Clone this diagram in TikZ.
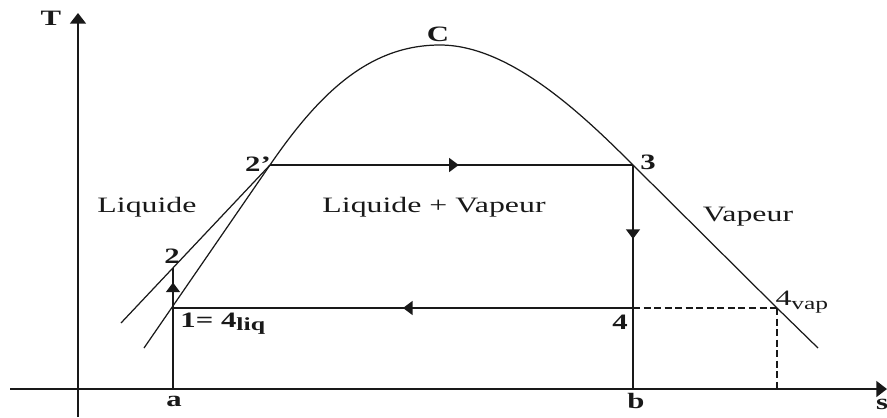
\documentclass[tikz,border=0pt]{standalone}
\usepackage{fontspec}
\setmainfont{Liberation Serif}
\usepackage{tikz}
\usetikzlibrary{
  arrows.meta,
  decorations.markings
}
\definecolor{linecolor}{RGB}{25,25,25}
\tikzset{
axisline/.style={
  line width=0.9pt,
  draw=linecolor,
  -{Triangle[length=6pt,width=9pt]}
},
satcurve/.style={
  line width=0.7pt,
  draw=linecolor
},
cycleline/.style={
  line width=0.9pt,
  draw=linecolor
},
guideline/.style={
  line width=0.8pt,
  draw=linecolor,
  dash pattern=on 4pt off 2pt
},
midarrow/.style={
  postaction={decorate},
  decoration={markings,
    mark=at position #1 with {\arrow{Triangle[length=5.5pt,width=8pt]}}}
},
ptlabel/.style={
  font=\fontsize{12.5}{14}\selectfont\bfseries,
  text=linecolor,
  xscale=1.4,
  inner sep=0pt
},
zonelabel/.style={
  font=\fontsize{12.5}{14}\selectfont,
  text=linecolor,
  xscale=1.45,
  inner sep=0pt
}
}

\begin{document}
\begin{tikzpicture}[x=0.02cm, y=-0.02cm]
    \useasboundingbox (0,0) rectangle (887,417);

    % Axes
    \coordinate (s0) at (10,389);
    \coordinate (s1) at (887,389);
    \coordinate (t0) at (78,417);
    \coordinate (t1) at (78,13);
    \draw[axisline] (s0) -- (s1);
    \draw[axisline] (t0) -- (t1);

    % Points of the cycle
    \coordinate (p1) at (173,308);
    \coordinate (p2) at (173,268);
    \coordinate (p2p) at (270,165);
    \coordinate (p3) at (633,165);
    \coordinate (p4) at (633,308);
    \coordinate (p4v) at (777,308);
    \coordinate (a) at (173,389);
    \coordinate (b) at (633,389);
    \coordinate (v) at (777,389);
    \coordinate (c) at (440,45);
    \coordinate (liqend) at (144,348);
    \coordinate (vapend) at (818,348);
    \coordinate (tg) at (121,323);

    % Saturation curve and tangent
    \draw[satcurve] (liqend) -- (p2p)
      .. controls (320,92) and (370,45) .. (c)
      .. controls (510,45) and (583,115) .. (p3)
      -- (p4v) -- (vapend);
    \draw[satcurve] (tg) -- (p2p);

    % Cycle
    \draw[cycleline, midarrow=0.88] (a) -- (p2);
    \draw[cycleline, midarrow=0.52] (p2p) -- (p3);
    \draw[cycleline, midarrow=0.33] (p3) -- (b);
    \draw[cycleline, midarrow=0.5] (p4) -- (p1);
    \draw[guideline] (p4) -- (p4v);
    \draw[guideline] (p4v) -- (v);

    % Labels
    \node[ptlabel] (lT) at (51,18) {T};
    \node[ptlabel] (ls) at (882,404) {s};
    \node[ptlabel] (lC) at (438,34) {C};
    \node[ptlabel] (l2p) at (258,164) {2'};
    \node[ptlabel] (l3) at (648,162) {3};
    \node[ptlabel] (l2) at (172,256) {2};
    \node[ptlabel, anchor=base west] (l1) at (180,327)
      {1= 4\raisebox{-2pt}{\fontsize{10.5}{11}\selectfont liq}};
    \node[ptlabel] (l4) at (620,322) {4};
    \node[zonelabel, anchor=base west] (l4v) at (775,305)
      {4\raisebox{-2.8pt}{\fontsize{10}{11}\selectfont vap}};
    \node[ptlabel] (la) at (174,401) {a};
    \node[ptlabel] (lb) at (636,401) {b};
    \node[zonelabel] (zl) at (147,207) {Liquide};
    \node[zonelabel] (zlv) at (434,207) {Liquide + Vapeur};
    \node[zonelabel] (zv) at (748,217) {Vapeur};

\end{tikzpicture}
\end{document}
